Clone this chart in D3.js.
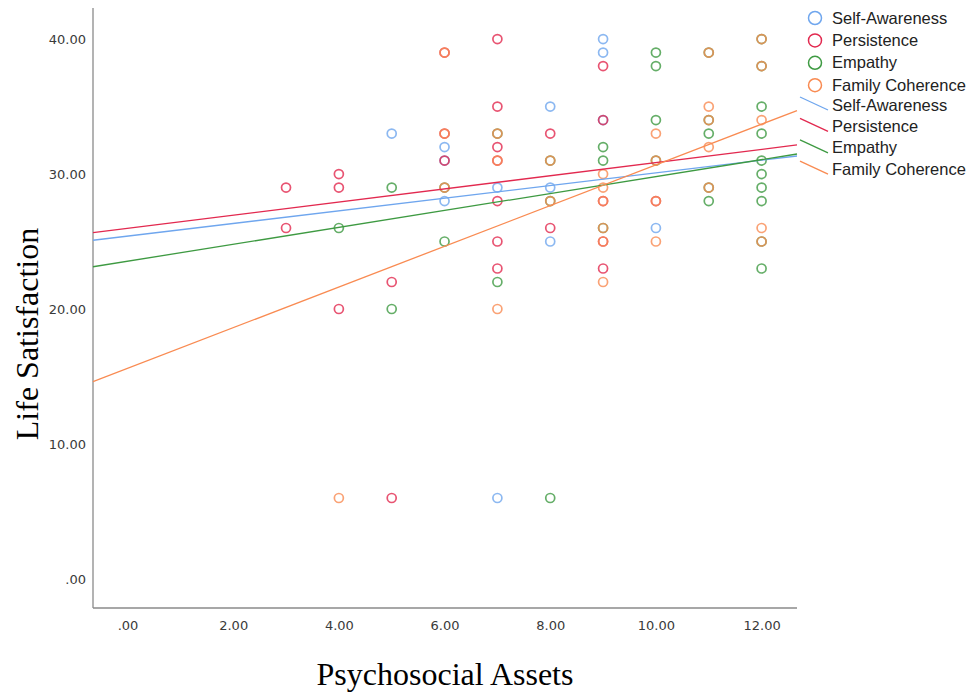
<!DOCTYPE html>
<html>
<head>
<meta charset="utf-8">
<script src="https://cdn.jsdelivr.net/npm/d3@7/dist/d3.min.js"></script>
<style>
  body { margin: 0; background: #fff; }
  svg text { font-family: "Liberation Sans", Arial, sans-serif; }
</style>
</head>
<body>
<svg id="chart" width="971" height="696"></svg>
<script>
// series names, colours
const seriesNames = ["Self-Awareness", "Persistence", "Empathy", "Family Coherence"];
const seriesColors = ["#6fa6ee", "#e2294f", "#3e9a42", "#f98b52"];

// [Psychosocial Assets, Life Satisfaction]
const selfAwareness = [[5,33],[6,32],[6,31],[6,28],[7,29],[7,6],[8,35],[8,29],[8,25],
  [9,40],[9,39],[9,34],[10,26]];
const persistence = [[3,29],[3,26],[4,30],[4,29],[4,20],[5,22],[5,6],[6,39],[6,33],[6,31],
  [7,40],[7,35],[7,32],[7,31],[7,28],[7,25],[7,23],[8,33],[8,26],[9,38],[9,34],[9,28],
  [9,25],[9,23],[10,28]];
const empathy = [[4,26],[5,29],[5,20],[6,29],[6,25],[7,33],[7,22],[8,31],[8,28],[8,6],
  [9,32],[9,31],[9,26],[10,39],[10,38],[10,34],[10,31],[11,39],[11,34],[11,33],[11,29],
  [11,28],[12,40],[12,38],[12,35],[12,33],[12,31],[12,30],[12,29],[12,28],[12,25],[12,23]];
const familyCoherence = [[4,6],[6,39],[6,33],[6,29],[7,33],[7,31],[7,20],[8,31],[8,28],
  [9,30],[9,29],[9,28],[9,26],[9,25],[9,22],[10,33],[10,31],[10,28],[10,25],[11,39],
  [11,35],[11,34],[11,32],[11,29],[12,40],[12,38],[12,34],[12,26],[12,25]];

// fit lines (intercept, slope)
const fitIntercepts = [25.40, 25.97, 23.54, 15.60];
const fitSlopes = [0.4685, 0.488, 0.627, 1.5075];

const xTicks = [0, 2, 4, 6, 8, 10, 12];
const yTicks = [0, 10, 20, 30, 40];

const allSeries = [selfAwareness, persistence, empathy, familyCoherence];

const svg = d3.select("#chart");
const plotLeft = 93, plotRight = 797, plotTop = 8, plotBottom = 608;

const x = d3.scaleLinear().domain([-0.653, 12.67]).range([plotLeft, plotRight]);
const y = d3.scaleLinear().domain([-2.15, 42.3]).range([plotBottom, plotTop]);

const fmt = v => v === 0 ? ".00" : d3.format(".2f")(v);

// axes
const xAxis = svg.append("g")
  .attr("transform", "translate(0," + plotBottom + ")")
  .call(d3.axisBottom(x).tickValues(xTicks).tickSize(0).tickPadding(13).tickFormat(fmt));
const yAxis = svg.append("g")
  .attr("transform", "translate(" + plotLeft + ",0)")
  .call(d3.axisLeft(y).tickValues(yTicks).tickSize(0).tickPadding(7).tickFormat(fmt));
[xAxis, yAxis].forEach(a => {
  a.select(".domain").attr("stroke", "#8a8a8a").attr("stroke-width", 1.3);
  a.selectAll("text").attr("font-size", 13).attr("fill", "#3a3a3a")
    .style("font-family", "'DejaVu Sans', sans-serif");
});
xAxis.select(".domain").attr("d", "M" + plotLeft + ",0H" + plotRight);
yAxis.select(".domain").attr("d", "M0," + plotTop + "V" + plotBottom);

// points
allSeries.forEach((pts, i) => {
  svg.append("g").selectAll("circle")
    .data(pts)
    .enter()
    .append("circle")
    .attr("cx", d => x(d[0]))
    .attr("cy", d => y(d[1]))
    .attr("r", 4.5)
    .attr("fill", "none")
    .attr("stroke", seriesColors[i])
    .attr("stroke-width", 1.7)
    .attr("stroke-opacity", 0.8);
});

// fit lines
const xs = x.domain();
fitIntercepts.forEach((b, i) => {
  svg.append("line")
    .attr("x1", x(xs[0])).attr("y1", y(b + fitSlopes[i] * xs[0]))
    .attr("x2", x(xs[1])).attr("y2", y(b + fitSlopes[i] * xs[1]))
    .attr("stroke", seriesColors[i])
    .attr("stroke-width", 1.3);
});

// legend
const legend = svg.append("g").attr("transform", "translate(815,0)");
seriesNames.forEach((name, i) => {
  const cy = 18 + i * 22.4;
  legend.append("circle").attr("cx", 0).attr("cy", cy).attr("r", 6.5)
    .attr("fill", "none").attr("stroke", seriesColors[i]).attr("stroke-width", 1.5);
  legend.append("text").attr("x", 17).attr("y", cy + 5.5)
    .attr("font-size", 16.5).attr("fill", "#222").text(name);
});
seriesNames.forEach((name, i) => {
  const cy = 105 + i * 21.4;
  legend.append("line").attr("x1", -15).attr("y1", cy - 8).attr("x2", 13).attr("y2", cy + 5)
    .attr("stroke", seriesColors[i]).attr("stroke-width", 1.3);
  legend.append("text").attr("x", 17).attr("y", cy + 5.5)
    .attr("font-size", 16.5).attr("fill", "#222").text(name);
});

// axis titles
svg.append("text")
  .attr("transform", "translate(38,334) rotate(-90)")
  .attr("text-anchor", "middle")
  .style("font-family", "'Liberation Serif', 'Times New Roman', serif")
  .attr("font-size", 32)
  .text("Life Satisfaction");
svg.append("text")
  .attr("x", 445).attr("y", 685)
  .attr("text-anchor", "middle")
  .style("font-family", "'Liberation Serif', 'Times New Roman', serif")
  .attr("font-size", 32)
  .text("Psychosocial Assets");
</script>
</body>
</html>
